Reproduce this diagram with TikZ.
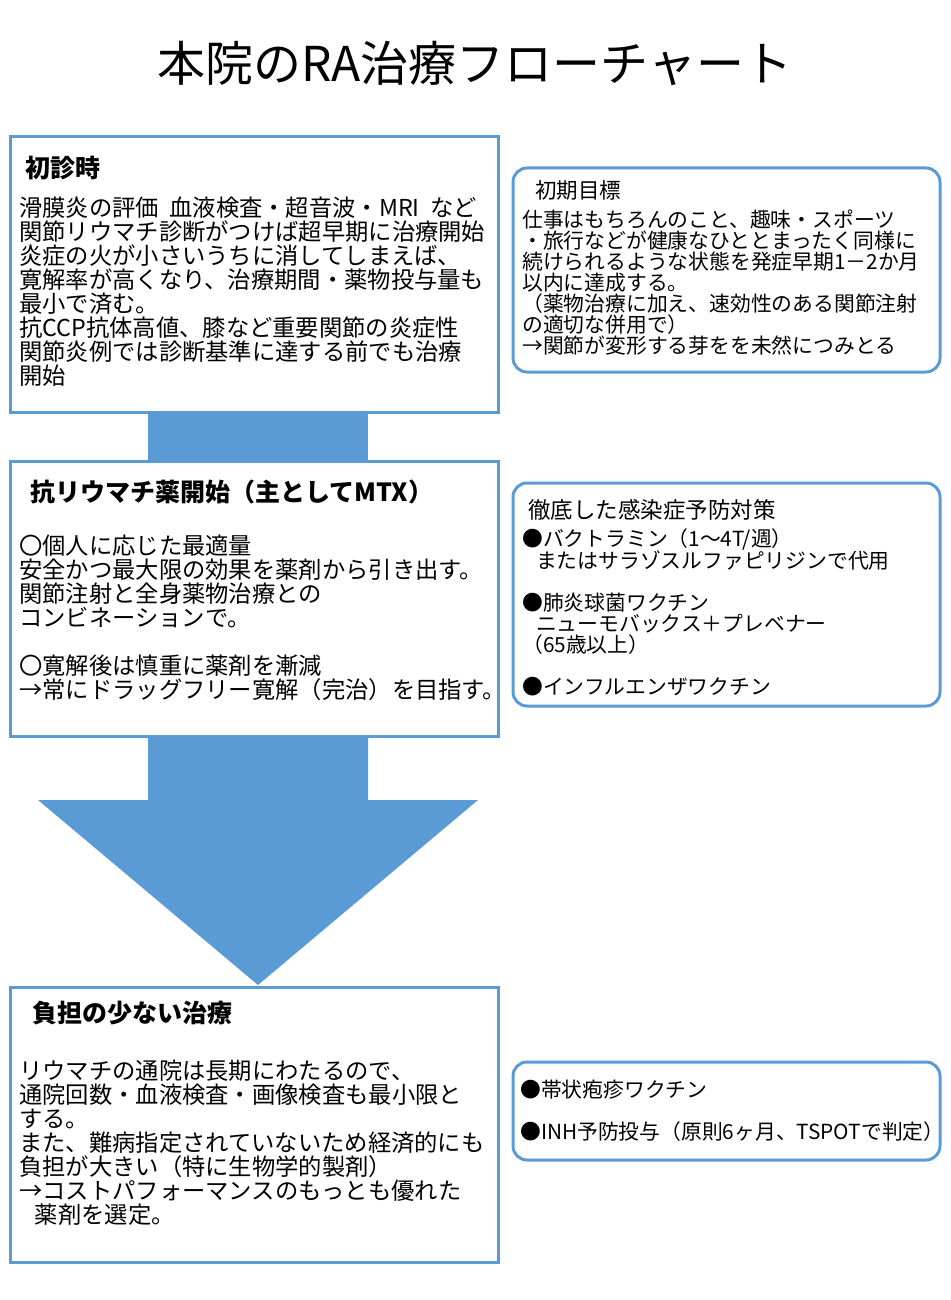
\documentclass[tikz,border=0pt]{standalone}
\usepackage{fontspec}
\setmainfont{Noto Sans CJK JP}
\definecolor{bl}{HTML}{5B9BD5}
\begin{document}
\begin{tikzpicture}[x=1pt,y=-1pt,
  box/.style={draw=bl,line width=3pt},
  rbox/.style={draw=bl,line width=3pt,rounded corners=14pt},
  body/.style={anchor=north west,align=left,inner sep=0pt,font=\fontsize{23.3}{24}\selectfont},
  rbody/.style={anchor=north west,align=left,inner sep=0pt,font=\fontsize{20.8}{21}\selectfont},
  head/.style={anchor=west,inner sep=0pt,font=\fontsize{25}{26}\selectfont\bfseries}]
\useasboundingbox (0,0) rectangle (950,1300);
\node[font=\fontsize{48}{52}\selectfont] (title) at (475,63) {本院のRA治療フローチャート};
% connectors
\fill[bl] (148,412) rectangle (368,462);
\fill[bl] (148,736) -- (368,736) -- (368,800) -- (478,800) -- (258,985) -- (38,800) -- (148,800) -- cycle;
% left boxes
\draw[box,fill=white] (10,137) rectangle (498,412);
\draw[box,fill=white] (10,461) rectangle (498,736);
\draw[box,fill=white] (10,987) rectangle (498,1262);
\node[head] (h1) at (25,168) {初診時};
\node[body] (t1) at (19,197) {滑膜炎の評価\ \ 血液検査・超音波・MRI\ \ など\\関節リウマチ診断がつけば超早期に治療開始\\炎症の火が小さいうちに消してしまえば、\\寛解率が高くなり、治療期間・薬物投与量も\\最小で済む。\\抗CCP抗体高値、膝など重要関節の炎症性\\関節炎例では診断基準に達する前でも治療\\開始};
\node[head] (h2) at (30,492) {抗リウマチ薬開始（主としてMTX）};
\node[body] (t2) at (19,535) {〇個人に応じた最適量\\安全かつ最大限の効果を薬剤から引き出す。\\関節注射と全身薬物治療との\\コンビネーションで。\\[24pt]〇寛解後は慎重に薬剤を漸減\\→常にドラッグフリー寛解（完治）を目指す。};
\node[head] (h3) at (32,1013) {負担の少ない治療};
\node[body] (t3) at (19,1060) {リウマチの通院は長期にわたるので、\\通院回数・血液検査・画像検査も最小限と\\する。\\また、難病指定されていないため経済的にも\\負担が大きい（特に生物学的製剤）\\→コストパフォーマンスのもっとも優れた\\\ \ \ 薬剤を選定。};
% right boxes
\draw[rbox] (513,168) rectangle (940,372);
\draw[rbox] (513,483) rectangle (940,706);
\draw[rbox] (513,1062) rectangle (940,1160);
\node[anchor=west,inner sep=0pt,font=\fontsize{21.5}{24}\selectfont] (rh1) at (535,190) {初期目標};
\node[rbody] (r1) at (522,210) {仕事はもちろんのこと、趣味・スポーツ\\・旅行などが健康なひととまったく同様に\\続けられるような状態を発症早期1－2か月\\以内に達成する。\\（薬物治療に加え、速効性のある関節注射\\の適切な併用で）\\→関節が変形する芽をを未然につみとる};
\node[anchor=west,inner sep=0pt,font=\fontsize{22.5}{24}\selectfont] (rh2) at (528,510) {徹底した感染症予防対策};
\node[rbody] (r2) at (522,528) {●バクトラミン（1～4T/週）\\\ \ \ またはサラゾスルファピリジンで代用\\[21pt]●肺炎球菌ワクチン\\\ \ \ ニューモバックス＋プレベナー\\（65歳以上）\\[21pt]●インフルエンザワクチン};
\node[rbody] (r3) at (520,1080) {●帯状疱疹ワクチン\\[21pt]●INH予防投与（原則6ヶ月、TSPOTで判定）};
\end{tikzpicture}
\end{document}
